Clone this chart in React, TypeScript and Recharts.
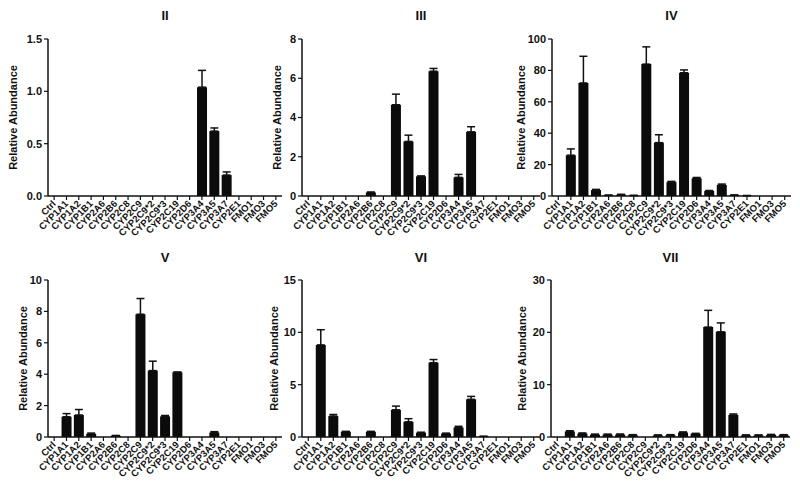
import React from 'react';
import { BarChart, Bar, XAxis, YAxis, ErrorBar } from 'recharts';

const categories = [
  'Ctrl', 'CYP1A1', 'CYP1A2', 'CYP1B1', 'CYP2A6', 'CYP2B6', 'CYP2C8', 'CYP2C9',
  'CYP2C9*2', 'CYP2C9*3', 'CYP2C19', 'CYP2D6', 'CYP3A4', 'CYP3A5', 'CYP3A7',
  'CYP2E1', 'FMO1', 'FMO3', 'FMO5',
];

// mean relative abundance per panel, in category order
const valuesII = [0, 0, 0, 0, 0, 0, 0, 0, 0, 0, 0, 0, 1.04, 0.62, 0.2, 0, 0, 0, 0];
const errorsII = [0, 0, 0, 0, 0, 0, 0, 0, 0, 0, 0, 0, 0.16, 0.03, 0.03, 0, 0, 0, 0];

const valuesIII = [0, 0, 0, 0, 0, 0.18, 0, 4.65, 2.78, 1.0, 6.36, 0, 0.95, 3.27, 0, 0, 0, 0, 0];
const errorsIII = [0, 0, 0, 0, 0, 0.02, 0, 0.54, 0.32, 0.02, 0.14, 0, 0.15, 0.26, 0, 0, 0, 0, 0];

const valuesIV = [0, 26, 72, 3.8, 0.4, 0.8, 0.3, 84, 34, 8.8, 78.5, 11.2, 3.2, 7, 0.5, 0.2, 0, 0, 0];
const errorsIV = [0, 4, 17, 0.4, 0.2, 0.3, 0.1, 11, 5, 0.5, 1.8, 0.6, 0.3, 0.6, 0.2, 0.1, 0, 0, 0];

const valuesV = [0, 1.29, 1.4, 0.2, 0, 0.08, 0, 7.82, 4.23, 1.31, 4.12, 0, 0, 0.28, 0, 0, 0, 0, 0];
const errorsV = [0, 0.2, 0.35, 0.05, 0, 0.02, 0, 1.0, 0.6, 0.06, 0.02, 0, 0, 0.06, 0, 0, 0, 0, 0];

const valuesVI = [0, 8.8, 2.0, 0.5, 0, 0.5, 0, 2.6, 1.45, 0.42, 7.1, 0.33, 0.9, 3.6, 0.05, 0, 0, 0, 0];
const errorsVI = [0, 1.45, 0.15, 0.04, 0, 0.04, 0, 0.35, 0.3, 0.03, 0.3, 0.03, 0.12, 0.28, 0.02, 0, 0, 0, 0];

const valuesVII = [0, 1.05, 0.65, 0.45, 0.45, 0.45, 0.35, 0, 0.3, 0.35, 0.85, 0.6, 21, 20.1, 4.2, 0.3, 0.3, 0.4, 0.35];
const errorsVII = [0, 0.15, 0.12, 0.1, 0.1, 0.12, 0.1, 0, 0.1, 0.1, 0.12, 0.1, 3.2, 1.7, 0.2, 0.1, 0.1, 0.1, 0.1];

const ticksII = [0, 0.5, 1, 1.5];
const ticksIII = [0, 2, 4, 6, 8];
const ticksIV = [0, 20, 40, 60, 80, 100];
const ticksV = [0, 2, 4, 6, 8, 10];
const ticksVI = [0, 5, 10, 15];
const ticksVII = [0, 10, 20, 30];

const FONT = '"Liberation Sans", Arial, Helvetica, sans-serif';
const INK = '#111';
const PLOT_H = 157;
const XAXIS_H = 48;

function CategoryTick(props: any) {
  const { x, y, payload } = props;
  return (
    <text
      x={x}
      y={y}
      dy="0.35em"
      transform={`rotate(-45, ${x}, ${y})`}
      textAnchor="end"
      fontSize={9.5}
      fontWeight={700}
      fontFamily={FONT}
      fill={INK}
    >
      {payload.value}
    </text>
  );
}

interface PanelProps {
  title: string;
  values: number[];
  errors: number[];
  ticks: number[];
  decimals: number;
  left: number;
  top: number;
  width: number;
  plotTop: number;
  titleTop: number;
  labelOffset: number;
}

function Panel({ title, values, errors, ticks, decimals, left, top, width, plotTop, titleTop, labelOffset }: PanelProps) {
  const data = categories.map((name, i) => ({
    name,
    value: values[i],
    err: [0, errors[i]],
  }));
  const height = plotTop + PLOT_H + XAXIS_H;
  const max = ticks[ticks.length - 1];

  return (
    <div style={{ position: 'absolute', left, top, width, height }}>
      <div
        style={{
          position: 'absolute',
          left: 48,
          width: width - 48,
          top: titleTop,
          textAlign: 'center',
          fontFamily: FONT,
          fontWeight: 700,
          fontSize: 13,
          color: INK,
        }}
      >
        {title}
      </div>
      <BarChart
        width={width}
        height={height}
        data={data}
        margin={{ top: plotTop, right: 0, left: 0, bottom: 0 }}
        barCategoryGap="10%"
      >
        <XAxis
          dataKey="name"
          interval={0}
          height={XAXIS_H}
          tick={<CategoryTick />}
          tickSize={4}
          tickMargin={2}
          axisLine={{ stroke: INK, strokeWidth: 1.5 }}
          tickLine={{ stroke: INK, strokeWidth: 1.2 }}
        />
        <YAxis
          width={48}
          domain={[0, max]}
          ticks={ticks}
          interval={0}
          tickFormatter={(v: number) => v.toFixed(decimals)}
          tickSize={4}
          tickMargin={2}
          axisLine={{ stroke: INK, strokeWidth: 1.5 }}
          tickLine={{ stroke: INK, strokeWidth: 1.2 }}
          tick={{ fontSize: 11, fontWeight: 700, fontFamily: FONT, fill: INK }}
          label={{
            value: 'Relative Abundance',
            angle: -90,
            position: 'insideLeft',
            offset: labelOffset,
            style: { textAnchor: 'middle', fontSize: 11, fontWeight: 700, fontFamily: FONT, fill: INK },
          }}
        />
        <Bar dataKey="value" fill="#0b0b0b" isAnimationActive={false}>
          <ErrorBar dataKey="err" direction="y" width={4} stroke={INK} strokeWidth={1.5} />
        </Bar>
      </BarChart>
    </div>
  );
}

export default function App() {
  return (
    <div style={{ position: 'absolute', left: 0, top: 0, width: 800, height: 489, background: '#fff' }}>
      <Panel title="II" values={valuesII} errors={errorsII} ticks={ticksII} decimals={1}
        left={0} top={0} width={282} plotTop={39} titleTop={8} labelOffset={13} />
      <Panel title="III" values={valuesIII} errors={errorsIII} ticks={ticksIII} decimals={0}
        left={254} top={0} width={286} plotTop={39} titleTop={8} labelOffset={23} />
      <Panel title="IV" values={valuesIV} errors={errorsIV} ticks={ticksIV} decimals={0}
        left={504} top={0} width={287} plotTop={39} titleTop={8} labelOffset={17} />
      <Panel title="V" values={valuesV} errors={errorsV} ticks={ticksV} decimals={0}
        left={0} top={245} width={282} plotTop={35} titleTop={5} labelOffset={23} />
      <Panel title="VI" values={valuesVI} errors={errorsVI} ticks={ticksVI} decimals={0}
        left={254} top={245} width={286} plotTop={35} titleTop={5} labelOffset={20} />
      <Panel title="VII" values={valuesVII} errors={errorsVII} ticks={ticksVII} decimals={0}
        left={503} top={245} width={287} plotTop={35} titleTop={5} labelOffset={19} />
    </div>
  );
}
